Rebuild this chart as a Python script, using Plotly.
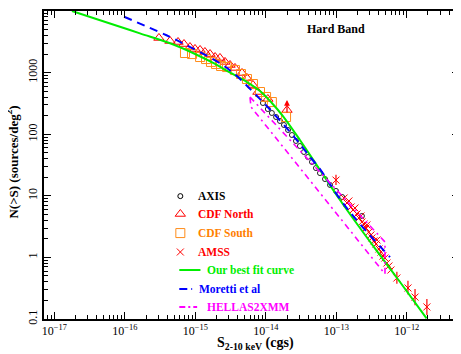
import plotly.graph_objects as go

# values: flux S (erg/cm^2/s) and N(>S) (sources/deg^2)
fit_s = [1.78e-17, 6.17e-17, 1.64e-16, 4.38e-16, 9.27e-16, 1.91e-15, 2.82e-15, 5.41e-15,
         8.28e-15, 1.22e-14, 1.75e-14, 3.05e-14, 5.87e-14, 1.13e-13, 2.17e-13, 4.17e-13,
         8.02e-13, 1.91e-12]
fit_n = [10000, 6270, 4330, 2990, 2080, 1380, 1062, 703,
         502, 321, 197, 80.5, 26.3, 8.55, 3.00, 1.09,
         0.399, 0.1026]

moretti_s = [9.77e-17, 3.84e-16, 6.47e-16, 2.82e-15, 7.76e-15, 1.35e-14, 2.20e-14, 3.05e-14,
             4.24e-14, 5.87e-14, 1.13e-13, 2.17e-13, 5.78e-13]
moretti_n = [8070, 4075, 3030, 1189, 402, 205, 109, 69.3,
             42.7, 27.2, 8.87, 3.48, 1.01]

# HELLAS2XMM band outline (upper edge, bright end, lower edge)
hellas_s = [5.97e-15, 4.91e-13, 4.91e-13, 6.17e-15, 5.97e-15]
hellas_n = [402, 1.78, 0.537, 277, 402]

axis_s = [9.12e-15, 1.07e-14, 1.22e-14, 1.40e-14, 1.59e-14, 1.81e-14, 2.07e-14, 2.35e-14,
          2.68e-14, 3.05e-14, 3.48e-14, 3.96e-14, 4.52e-14, 5.15e-14, 5.87e-14, 6.92e-14,
          8.15e-14, 9.91e-14, 1.21e-13, 2.31e-13]
axis_n = [321, 256, 221, 190, 164, 141, 117, 97.0,
          77.6, 64.3, 51.4, 42.7, 35.4, 28.2, 23.4, 18.7,
          15.0, 12.0, 9.57, 4.70]

cdfn_s = [3.05e-16, 4.38e-16, 5.69e-16, 6.92e-16, 8.41e-16, 9.91e-16, 1.17e-15, 1.37e-15,
          1.62e-15, 1.91e-15, 2.24e-15, 2.64e-15, 3.11e-15, 3.66e-15, 4.60e-15, 5.41e-15,
          6.58e-15, 7.74e-15, 1.07e-14, 2.00e-14]
cdfn_n = [3650, 3260, 3140, 2910, 2600, 2420, 2330, 2160,
          2000, 1790, 1730, 1490, 1330, 1190, 986, 817,
          629, 484, 373, 247]

cdfs_s = [7.14e-16, 8.98e-16, 1.17e-15, 1.42e-15, 1.67e-15, 1.97e-15, 2.32e-15, 2.82e-15,
          3.66e-15, 4.45e-15, 5.41e-15, 6.58e-15, 8.28e-15, 1.01e-14, 1.22e-14, 1.94e-14]
cdfs_n = [2080, 2000, 1790, 1660, 1490, 1380, 1280, 1230,
          1100, 948, 787, 653, 484, 402, 333, 190]

amss_s = [9.91e-14, 1.29e-13, 1.42e-13, 1.51e-13, 1.62e-13, 1.73e-13, 1.84e-13, 1.97e-13,
          2.10e-13, 2.24e-13, 2.31e-13, 2.47e-13, 2.64e-13, 2.72e-13, 2.90e-13, 3.10e-13,
          3.21e-13, 3.42e-13, 3.66e-13, 3.78e-13, 4.03e-13, 4.30e-13, 4.59e-13, 4.90e-13,
          5.23e-13, 5.58e-13, 5.96e-13, 7.24e-13, 1.04e-12, 1.31e-12, 1.93e-12]
amss_n = [18.0, 9.20, 7.64, 8.24, 6.58, 5.88, 6.34, 5.07,
          4.37, 4.70, 3.76, 3.48, 3.00, 3.36, 2.58, 2.31,
          2.07, 1.85, 1.65, 1.92, 1.37, 1.22, 1.05, 0.978,
          0.811, 0.725, 0.624, 0.463, 0.319, 0.227, 0.157]
amss_err_hi = [4.0] + [0] * 26 + [0.12, 0.10, 0.08, 0.055]
amss_err_lo = [3.0] + [0] * 26 + [0.09, 0.07, 0.06, 0.041]

legend_rows = [
    ("AXIS", "black"),
    ("CDF North", "#ff0000"),
    ("CDF South", "#ff8000"),
    ("AMSS", "#ff0000"),
    ("Our best fit curve", "#00ee00"),
    ("Moretti et al", "#0000ff"),
    ("HELLAS2XMM", "#ff00ff"),
]

serif = "Liberation Serif"
fig = go.Figure()

fig.add_trace(go.Scatter(x=axis_s, y=axis_n, mode="markers",
                         marker=dict(symbol="circle-open", size=5, color="#222",
                                     line=dict(width=1))))
fig.add_trace(go.Scatter(x=cdfn_s, y=cdfn_n, mode="markers",
                         marker=dict(symbol="triangle-up-open", size=9, color="#ff0000",
                                     line=dict(width=1))))
fig.add_trace(go.Scatter(x=cdfs_s, y=cdfs_n, mode="markers",
                         marker=dict(symbol="square-open", size=9, color="#ff8c1a",
                                     line=dict(width=1))))
fig.add_trace(go.Scatter(x=amss_s, y=amss_n, mode="markers",
                         marker=dict(symbol="x-thin", size=7, color="#ff0000",
                                     line=dict(width=1, color="#ff0000")),
                         error_y=dict(type="data", array=amss_err_hi, arrayminus=amss_err_lo,
                                      color="#ff0000", thickness=1.2, width=0)))
fig.add_trace(go.Scatter(x=fit_s, y=fit_n, mode="lines", line_shape="spline",
                         line=dict(color="#00ee00", width=2)))
fig.add_trace(go.Scatter(x=moretti_s, y=moretti_n, mode="lines", line_shape="spline",
                         line=dict(color="#0000ff", width=2, dash="8px,6px")))
fig.add_trace(go.Scatter(x=hellas_s, y=hellas_n, mode="lines",
                         line=dict(color="#ff00ff", width=1.6, dash="6px,4px,2px,4px")))

# upward arrow on the brightest CDF North point
fig.add_annotation(x=-13.699, y=2.555, ax=0, ay=14, showarrow=True, arrowhead=2,
                   arrowsize=0.9, arrowwidth=1.3, arrowcolor="#ff0000", text="")

# hand-made key, drawn on an overlay axis spanning the plot area
key_x, key_y = 0.3285, [0.399, 0.341, 0.279, 0.2175, 0.159, 0.097, 0.039]
key_marks = [("circle-open", 5, "black"), ("triangle-up-open", 9, "#ff0000"),
             ("square-open", 9, "#ff8c1a"), ("x-thin", 7, "#ff0000")]
for (sym, sz, col), yy in zip(key_marks, key_y):
    fig.add_trace(go.Scatter(x=[key_x], y=[yy], xaxis="x2", yaxis="y2", mode="markers",
                             marker=dict(symbol=sym, size=sz, color=col,
                                         line=dict(width=1, color=col))))
key_lines = [(0.326, 0.377, "#00ee00", "solid"), (0.326, 0.357, "#0000ff", "8px,4px"),
             (0.326, 0.369, "#ff00ff", "6px,3px,2px,3px")]
for (x0, x1, col, dash), yy in zip(key_lines, key_y[4:]):
    fig.add_shape(type="line", xref="paper", yref="paper", x0=x0, x1=x1, y0=yy, y1=yy,
                  line=dict(color=col, width=2, dash=dash))
text_x = [0.367, 0.367, 0.367, 0.367, 0.389, 0.369, 0.389]
for (label, col), tx, yy in zip(legend_rows, text_x, key_y):
    fig.add_annotation(x=tx, y=yy, xref="paper", yref="paper", text=f"<b>{label}</b>",
                       showarrow=False, xanchor="left", yanchor="middle",
                       font=dict(family=serif, size=11.5, color=col))

fig.add_annotation(x=0.704, y=0.9416, xref="paper", yref="paper", text="<b>Hard Band</b>",
                   showarrow=False, xanchor="center", yanchor="middle",
                   font=dict(family=serif, size=12, color="black"))
fig.add_annotation(x=0.509, y=-0.078, xref="paper", yref="paper",
                   text="<b>S<sub>2-10 keV</sub> (cgs)</b>", showarrow=False,
                   xanchor="center", yanchor="middle",
                   font=dict(family=serif, size=14, color="black"))
fig.add_annotation(x=-0.077, y=0.508, xref="paper", yref="paper", textangle=-90,
                   text="<b>N(>S) (sources/deg<sup>2</sup>)</b>", showarrow=False,
                   xanchor="center", yanchor="middle",
                   font=dict(family=serif, size=13, color="black"))

x_major = [1e-17, 1e-16, 1e-15, 1e-14, 1e-13, 1e-12]
x_labels = ["10<sup>−17</sup>", "10<sup>−16</sup>", "10<sup>−15</sup>",
            "10<sup>−14</sup>", "10<sup>−13</sup>", "10<sup>−12</sup>"]
y_major = [0.1, 1, 10, 100, 1000, 10000]
y_labels = ["0.1", "1", "10", "100", "1000", "10<sup>4</sup>"]
x_minor = [m * 10.0 ** e for e in range(-18, -11) for m in range(2, 10)]
y_minor = [m * 10.0 ** e for e in range(-2, 4) for m in range(2, 10)]

axis_style = dict(type="log", showline=True, linecolor="black", linewidth=1.5,
                  mirror="allticks", ticks="inside", ticklen=7, tickwidth=1,
                  tickcolor="black", showgrid=False, zeroline=False, tickmode="array",
                  automargin=False)
# the page body adds an 8px offset, so the margins are trimmed on the top/left
fig.update_layout(
    width=461, height=354,
    margin=dict(l=36, r=10, t=3, b=43),
    plot_bgcolor="white", paper_bgcolor="white",
    showlegend=False,
    xaxis=dict(axis_style, range=[-17.146, -11.259], tickvals=x_major, ticktext=x_labels,
               tickfont=dict(family=serif, size=12, color="black"),
               minor=dict(tickmode="array", tickvals=x_minor, ticks="inside", ticklen=4,
                          tickcolor="black", showgrid=False)),
    yaxis=dict(axis_style, range=[-1, 4], tickvals=y_major, ticktext=y_labels,
               tickangle=-90, tickfont=dict(family=serif, size=12, color="black"),
               minor=dict(tickmode="array", tickvals=y_minor, ticks="inside", ticklen=4,
                          tickcolor="black", showgrid=False)),
    xaxis2=dict(overlaying="x", range=[0, 1], visible=False, fixedrange=True),
    yaxis2=dict(overlaying="y", range=[0, 1], visible=False, fixedrange=True),
)

fig.write_html("out.html")
